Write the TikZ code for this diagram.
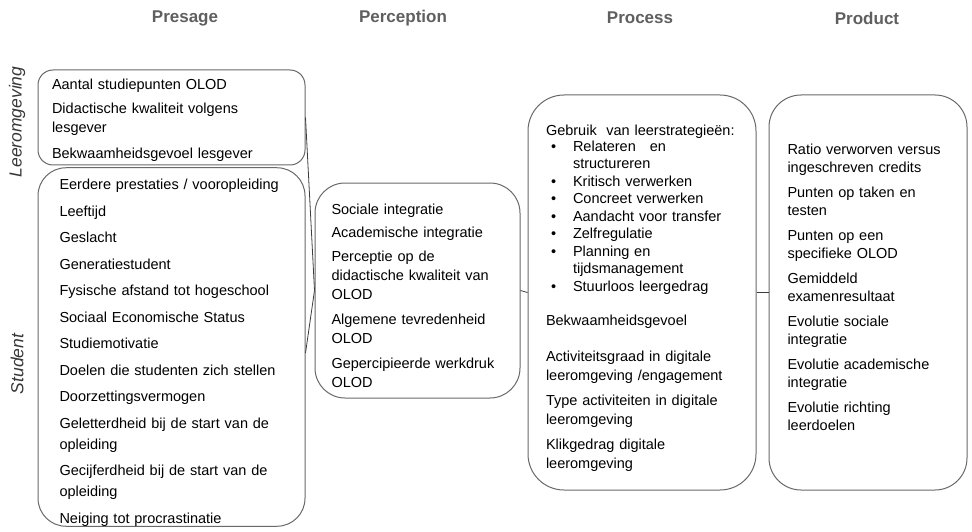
\documentclass[tikz,border=0pt]{standalone}
\usepackage{fontspec}
\setmainfont{Liberation Sans}
\usepackage{tikz}
\usetikzlibrary{positioning}
\hyphenpenalty=10000
\definecolor{Cbox}{RGB}{105, 105, 105}
\definecolor{Cline}{RGB}{60, 60, 60}
\definecolor{Chead}{RGB}{95, 95, 95}
\definecolor{Cside}{RGB}{55, 55, 55}
\tikzset{
    pbox/.style={
        rectangle, draw=Cbox, line width=1.0pt, fill=white, text=black,
        align=left, font=\fontsize{14.5}{19}\selectfont, inner sep=0pt
    },
    phead/.style={font=\fontsize{17}{20}\selectfont\bfseries, text=Chead},
    pside/.style={font=\fontsize{17.5}{20}\selectfont\itshape, text=Cside, rotate=90},
    pline/.style={line width=0.8pt, Cline},
}
\newcommand{\ptop}[1][22pt]{\rule{0pt}{#1}}
\newcommand{\pbul}{\hspace*{5pt}\makebox[22pt][l]{\textbullet}}
\newcommand{\pind}{\hspace*{27pt}}

\begin{document}
\begin{tikzpicture}[x=1pt, y=-1pt]
    \useasboundingbox (0,0) rectangle (972,532);

    % -- column headings --
    \node[phead] (hpresage) at (185,18) {Presage};
    \node[phead] (hpercep) at (403,18) {Perception};
    \node[phead] (hprocess) at (640,18) {Process};
    \node[phead] (hproduct) at (867,18) {Product};

    % -- presage: two boxes --
    \node[pbox, rounded corners=15pt, minimum width=267pt, minimum height=95pt,
          text width=239pt] (env) at (171.5,117.5)
        {\ptop[16pt]Aantal studiepunten OLOD\\[5pt]
         Didactische kwaliteit volgens\\
         lesgever\\[7pt]
         Bekwaamheidsgevoel lesgever};
    \node[pbox, rounded corners=28pt, minimum width=267pt, minimum height=350pt,
          text width=224pt] (student) at (171.5,347)
        {\ptop Eerdere prestaties / vooropleiding\\[7.5pt]
         Leeftijd\\[7.5pt]
         Geslacht\\[7.5pt]
         Generatiestudent\\[7.5pt]
         Fysische afstand tot hogeschool\\[7.5pt]
         Sociaal Economische Status\\[7.5pt]
         Studiemotivatie\\[7.5pt]
         Doelen die studenten zich stellen\\[7.5pt]
         Doorzettingsvermogen\\[7.5pt]
         Geletterdheid bij de start van de\\[2pt]
         opleiding\\[7.5pt]
         Gecijferdheid bij de start van de\\[2pt]
         opleiding\\[7.5pt]
         Neiging tot procrastinatie};
    \node[pside] (sideenv) at (17,122) {Leeromgeving};
    \node[pside] (sidestud) at (17,364) {Student};

    % -- perception --
    \node[pbox, rounded corners=30pt, minimum width=205pt, minimum height=215pt,
          text width=172pt] (percep) at (417.5,290.5)
        {\ptop Sociale integratie\\[4pt]
         Academische integratie\\[5pt]
         Perceptie op de\\
         didactische kwaliteit van\\
         OLOD\\[6pt]
         Algemene tevredenheid\\
         OLOD\\[6pt]
         Gepercipieerde werkdruk\\
         OLOD};

    % -- process --
    \node[pbox, rounded corners=36pt, minimum width=228pt, minimum height=395pt,
          text width=192pt] (process) at (642,292.5)
        {\ptop Gebruik\ \ van leerstrategieën:\\[-3pt]
         \pbul Relateren\hspace{14pt}en\\[-2pt]
         \pind structureren\\[-1.5pt]
         \pbul Kritisch verwerken\\[-1.5pt]
         \pbul Concreet verwerken\\[-1.5pt]
         \pbul Aandacht voor transfer\\[-1.5pt]
         \pbul Zelfregulatie\\[-1.5pt]
         \pbul Planning en\\[-1.5pt]
         \pind tijdsmanagement\\[-1.5pt]
         \pbul Stuurloos leergedrag\\[15pt]
         Bekwaamheidsgevoel\\[17pt]
         Activiteitsgraad in digitale\\
         leeromgeving /engagement\\[6pt]
         Type activiteiten in digitale\\
         leeromgeving\\[6pt]
         Klikgedrag digitale\\
         leeromgeving};

    % -- product --
    \node[pbox, rounded corners=32pt, minimum width=198pt, minimum height=395pt,
          text width=161pt] (product) at (868,292.5)
        {\ptop Ratio verworven versus\\[-1pt]
         ingeschreven credits\\[6pt]
         Punten op taken en\\[-1pt]
         testen\\[6pt]
         Punten op een\\[-1pt]
         specifieke OLOD\\[6pt]
         Gemiddeld\\[-1pt]
         examenresultaat\\[6pt]
         Evolutie sociale\\[-1pt]
         integratie\\[6pt]
         Evolutie academische\\[-1pt]
         integratie\\[6pt]
         Evolutie richting\\[-1pt]
         leerdoelen\\[-2pt]
         \strut};

    % -- connectors --
    \draw[pline] (env.east) -- (percep.west);
    \draw[pline] ([yshift=-6pt]student.east) -- (percep.west);
    \draw[pline] (percep.east) -- (process.west);
    \draw[pline] (process.east) -- (product.west);

\end{tikzpicture}
\end{document}
